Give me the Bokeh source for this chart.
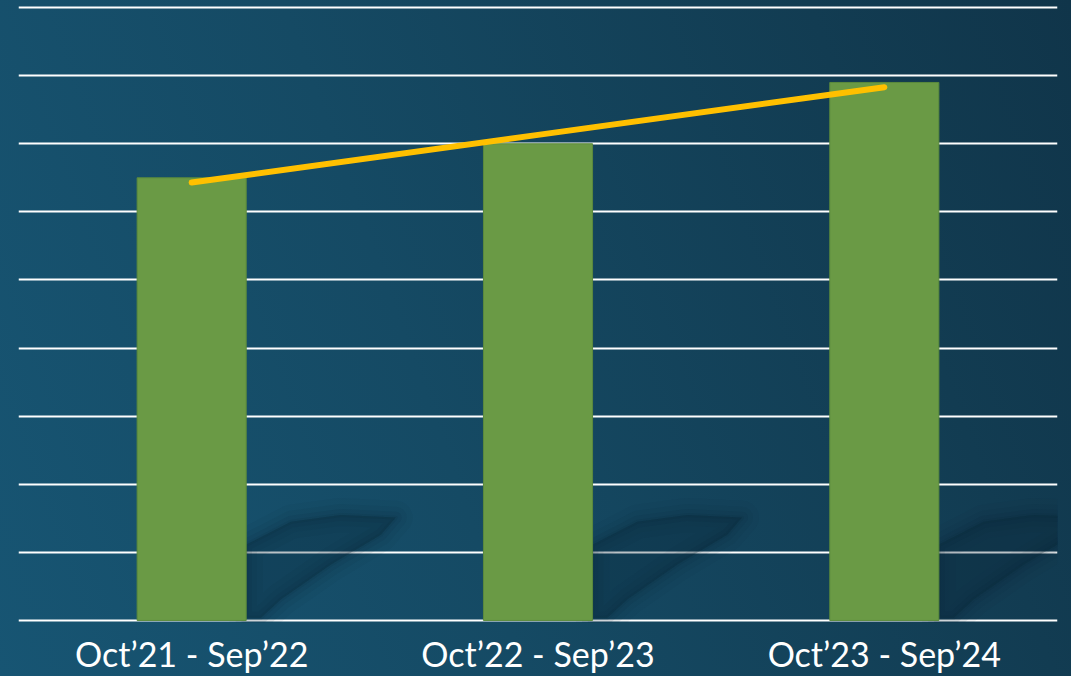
from bokeh.plotting import figure
from bokeh.models import Range1d, FixedTicker
from bokeh.embed import file_html
from bokeh.resources import INLINE

# ---- data ----
categories = ["Oct’21 - Sep’22", "Oct’22 - Sep’23", "Oct’23 - Sep’24"]
bar_values = [6.5, 7.0, 7.9]
trend_values = [6.43, 7.13, 7.83]
grid_ticks = [0, 1, 2, 3, 4, 5, 6, 7, 8, 9]

xs = list(range(len(categories)))

p = figure(width=1071, height=676, output_backend="svg", toolbar_location=None,
           x_range=Range1d(-0.5, len(categories) - 0.5),
           y_range=Range1d(-0.03, 9.03),
           min_border_left=18, min_border_right=14, min_border_top=5,
           min_border_bottom=53)

p.background_fill_alpha = 0
p.border_fill_alpha = 0
p.outline_line_color = None
p.styles = {"background": "linear-gradient(70deg, #175573 0%, #154a64 40%, #123c52 80%, #10354a 100%)"}

# grid
p.xgrid.grid_line_color = None
p.ygrid.ticker = FixedTicker(ticks=grid_ticks)
p.yaxis.ticker = FixedTicker(ticks=grid_ticks)
p.ygrid.grid_line_color = "white"
p.ygrid.grid_line_width = 2
p.ygrid.grid_line_alpha = 1
p.yaxis.visible = False

# soft diagonal shadows to the right of bars (decorative)
sh_dx = [0.157, 0.157, 0.287, 0.431, 0.589, 0.546, 0.402, 0.258, 0.20]
sh_dy = [0.04, 1.11, 1.45, 1.55, 1.51, 1.26, 0.82, 0.31, 0.04]
shadow_xs = [[i + d for d in sh_dx] for i in xs]
shadow_ys = [sh_dy for _ in xs]
for lw, la, fa in [(34, 0.05, 0.0), (22, 0.07, 0.0), (12, 0.09, 0.12), (4, 0.1, 0.18)]:
    p.patches(shadow_xs, shadow_ys, fill_color="#0a2535", fill_alpha=fa,
              line_color="#0a2535", line_alpha=la, line_width=lw, line_join="round")

# bars
p.vbar(x=xs, top=bar_values, width=0.315, bottom=0,
       fill_color="#6a9a45", line_color="#5b8a3c", line_width=1)

# trend line
p.line(xs, trend_values, line_color="#ffc000", line_width=6, line_cap="round")

# x axis
p.xaxis.ticker = FixedTicker(ticks=xs)
p.xaxis.major_label_overrides = {i: c for i, c in zip(xs, categories)}
p.xaxis.axis_line_color = None
p.xaxis.major_tick_line_color = None
p.xaxis.minor_tick_line_color = None
p.xaxis.major_label_text_color = "white"
p.xaxis.major_label_text_font = "Lato"
p.xaxis.major_label_text_font_size = "34px"
p.xaxis.major_label_standoff = 4

open("out.html", "w").write(file_html(p, INLINE))
